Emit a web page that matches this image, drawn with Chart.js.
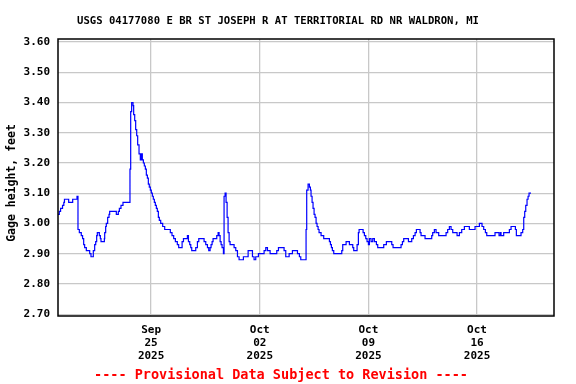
<!DOCTYPE html>
<html>
<head>
<meta charset="utf-8">
<script src="https://cdn.jsdelivr.net/npm/chart.js@4"></script>
<style>
  body { margin: 0; background: #fff; }
  canvas { display: block; }
</style>
</head>
<body>
<canvas id="gageChart" width="576" height="384"></canvas>
<script>
// hours after Sep 19 2025 00:00 where the reading changes
const hours = [
  0, 2, 4, 7, 9, 10, 16.5, 22.7, 29.4, 30.9, 33, 36, 38, 39.7, 41.2, 43.8,
  49, 51, 54.6, 56.7, 58.3, 59.8, 60.8, 63.9, 65.5, 66.5, 71.7, 72.2, 73.7, 74.7,
  76.8, 78.9, 79.9, 90.2, 93.3, 94.9, 97.4, 100.5, 111.3, 112.4, 113.9, 116, 117, 118.6, 120.1, 121.7, 123.2, 125.3,
  127.3, 128.9, 130.4, 132, 133.5, 135.1, 136.6, 138.2, 139.7, 141.2, 142.8, 144.3, 145.9, 147.4, 149, 150.5, 152.1, 153.6, 155.2, 156.7,
  158.8, 161.9, 165, 173.7, 176.3, 178.9, 181.5, 184.5, 186.6,
  191.9, 194, 200.1, 201.7, 203.7, 205.3, 206.8, 213, 215.6, 217.7, 225.9, 228.5, 231.1, 233.1,
  235.2, 236.7, 238.3, 239.8, 245.5, 247.6, 249.1, 250.7, 252.2, 253.7, 255.8, 256.8, 258.4, 259.9,
  261.5, 263, 264.6, 266.1, 272.3, 274.9, 277.5, 280, 286.7, 294, 300.7, 303.2, 305.8, 309.9,
  318.7, 321.3, 323.9, 328, 338.3, 340.9, 349.6, 352.2, 357.4, 362.5, 370.3, 373.3, 375.4,
  383.6, 384.6, 386.7, 388.8, 390.3, 391.3, 392.9, 394.4, 396, 397.5, 399.1, 400.6, 402.2, 403.7,
  406.8, 410.9, 419.7, 421.3, 422.8, 424.3, 426.4, 438.8, 440.3, 445.5, 450.6, 455.8, 457.3, 462.5,
  464.5, 465.6, 471.8, 473.8, 475.9, 477.9, 480, 481.5, 484.1, 486.7, 489.3, 492.4, 494.4, 503.7,
  507.8, 516.1, 518.1, 530.5, 532.6, 534.6, 541.9, 547, 549.6, 552.2, 554.2, 559.9,
  561.4, 567.6, 577.9, 579.4, 582, 584.6, 588.7, 600.1, 602.6, 605.2, 607.8, 610.4, 617.1, 620.7,
  624.3, 628.4, 636.1, 644.9, 651.6, 655.7, 658.3, 660.9, 663, 675.8, 682, 684.1, 685.1, 689.2,
  698, 700.6, 707.3, 708.8, 716, 718.6, 720.2, 721.7, 723.3, 725.3, 726.9, 728.4, 731.5
];

// gage height, feet
const gage = [
  3.03, 3.04, 3.05, 3.06, 3.07, 3.08, 3.07, 3.08, 3.09, 2.98, 2.97, 2.96, 2.95, 2.93, 2.92, 2.91,
  2.90, 2.89, 2.91, 2.93, 2.94, 2.96, 2.97, 2.96, 2.95, 2.94, 2.95, 2.97, 2.99, 3.00,
  3.02, 3.03, 3.04, 3.03, 3.04, 3.05, 3.06, 3.07, 3.18, 3.37, 3.40, 3.39, 3.36, 3.34, 3.31, 3.29, 3.26, 3.23,
  3.21, 3.23, 3.21, 3.20, 3.19, 3.18, 3.16, 3.15, 3.13, 3.12, 3.11, 3.10, 3.09, 3.08, 3.07, 3.06, 3.05, 3.04, 3.02, 3.01,
  3.00, 2.99, 2.98, 2.97, 2.96, 2.95, 2.94, 2.93, 2.92,
  2.94, 2.95, 2.96, 2.94, 2.93, 2.92, 2.91, 2.92, 2.94, 2.95, 2.94, 2.93, 2.92, 2.91,
  2.92, 2.93, 2.94, 2.95, 2.96, 2.97, 2.96, 2.94, 2.93, 2.92, 2.90, 3.09, 3.10, 3.07,
  3.02, 2.97, 2.94, 2.93, 2.92, 2.91, 2.89, 2.88, 2.89, 2.91, 2.89, 2.88, 2.89, 2.90,
  2.91, 2.92, 2.91, 2.90, 2.91, 2.92, 2.91, 2.89, 2.90, 2.91, 2.90, 2.89, 2.88,
  2.98, 3.11, 3.13, 3.12, 3.11, 3.09, 3.07, 3.05, 3.03, 3.02, 3.00, 2.99, 2.98, 2.97,
  2.96, 2.95, 2.94, 2.93, 2.92, 2.91, 2.90, 2.91, 2.93, 2.94, 2.93, 2.92, 2.91, 2.93,
  2.97, 2.98, 2.97, 2.96, 2.95, 2.94, 2.93, 2.95, 2.94, 2.95, 2.94, 2.93, 2.92, 2.93,
  2.94, 2.93, 2.92, 2.93, 2.94, 2.95, 2.94, 2.95, 2.96, 2.97, 2.98, 2.97,
  2.96, 2.95, 2.96, 2.97, 2.98, 2.97, 2.96, 2.97, 2.98, 2.99, 2.98, 2.97, 2.96, 2.97,
  2.98, 2.99, 2.98, 2.99, 3.00, 2.99, 2.98, 2.97, 2.96, 2.97, 2.96, 2.97, 2.96, 2.97,
  2.98, 2.99, 2.98, 2.96, 2.97, 2.98, 3.02, 3.04, 3.06, 3.08, 3.09, 3.10, 3.10
];

const tickHours = [144, 312, 480, 648];
const tickLabels = [["Sep", "25", "2025"], ["Oct", "02", "2025"], ["Oct", "09", "2025"], ["Oct", "16", "2025"]];
const yTicks = [2.7, 2.8, 2.9, 3.0, 3.1, 3.2, 3.3, 3.4, 3.5, 3.6];

const chartTitle = "USGS 04177080 E BR ST JOSEPH R AT TERRITORIAL RD NR WALDRON, MI";
const yTitle = "Gage height, feet";
const footNote = "---- Provisional Data Subject to Revision ----";

const mono = "'DejaVu Sans Mono', 'Liberation Mono', monospace";

// title, axis title, footer and frame
const decorations = {
  id: "decorations",
  afterDraw(chart) {
    const ctx = chart.ctx;
    const a = chart.chartArea;
    ctx.save();
    ctx.strokeStyle = "#000";
    ctx.lineWidth = 1.5;
    ctx.strokeRect(a.left, a.top, a.right - a.left, a.bottom - a.top);

    ctx.fillStyle = "#000";
    ctx.textAlign = "center";
    ctx.textBaseline = "middle";
    ctx.font = "bold 10.6px " + mono;
    ctx.fillText(chartTitle, 278, 21);

    ctx.save();
    ctx.translate(12, 183);
    ctx.rotate(-Math.PI / 2);
    ctx.font = "bold 11.5px " + mono;
    ctx.fillText(yTitle, 0, 0);
    ctx.restore();

    ctx.fillStyle = "#ff0000";
    ctx.font = "bold 13.5px " + mono;
    ctx.fillText(footNote, 281, 375);
    ctx.restore();
  }
};

new Chart("gageChart", {
  type: "line",
  data: {
    datasets: [{
      data: hours.map((h, i) => ({ x: h, y: gage[i] })),
      borderColor: "#0000ff",
      borderWidth: 1.2,
      pointRadius: 0,
      stepped: "before",
      fill: false
    }]
  },
  options: {
    responsive: false,
    animation: false,
    layout: { padding: { top: 39, right: 22, left: 0, bottom: 0 } },
    plugins: {
      legend: { display: false },
      title: { display: false },
      tooltip: { enabled: false }
    },
    scales: {
      x: {
        type: "linear",
        min: 0,
        max: 767,
        afterBuildTicks: (scale) => { scale.ticks = tickHours.map(v => ({ value: v })); },
        afterFit: (scale) => { scale.height = 68; },
        grid: { color: "#c8c8c8", lineWidth: 1.3, drawTicks: false },
        border: { display: false },
        ticks: {
          padding: 8,
          maxRotation: 0,
          autoSkip: false,
          color: "#000",
          font: { family: mono, size: 11, weight: "bold", lineHeight: 1.16 },
          callback: (v) => tickLabels[tickHours.indexOf(v)]
        }
      },
      y: {
        min: 2.694,
        max: 3.61,
        afterBuildTicks: (scale) => { scale.ticks = yTicks.map(v => ({ value: v })); },
        afterFit: (scale) => { scale.width = 58; },
        grid: { color: "#c8c8c8", lineWidth: 1.3, drawTicks: false },
        border: { display: false },
        ticks: {
          padding: 8,
          color: "#000",
          font: { family: mono, size: 11, weight: "bold" },
          callback: (v) => v.toFixed(2)
        }
      }
    }
  },
  plugins: [decorations]
});
</script>
</body>
</html>
